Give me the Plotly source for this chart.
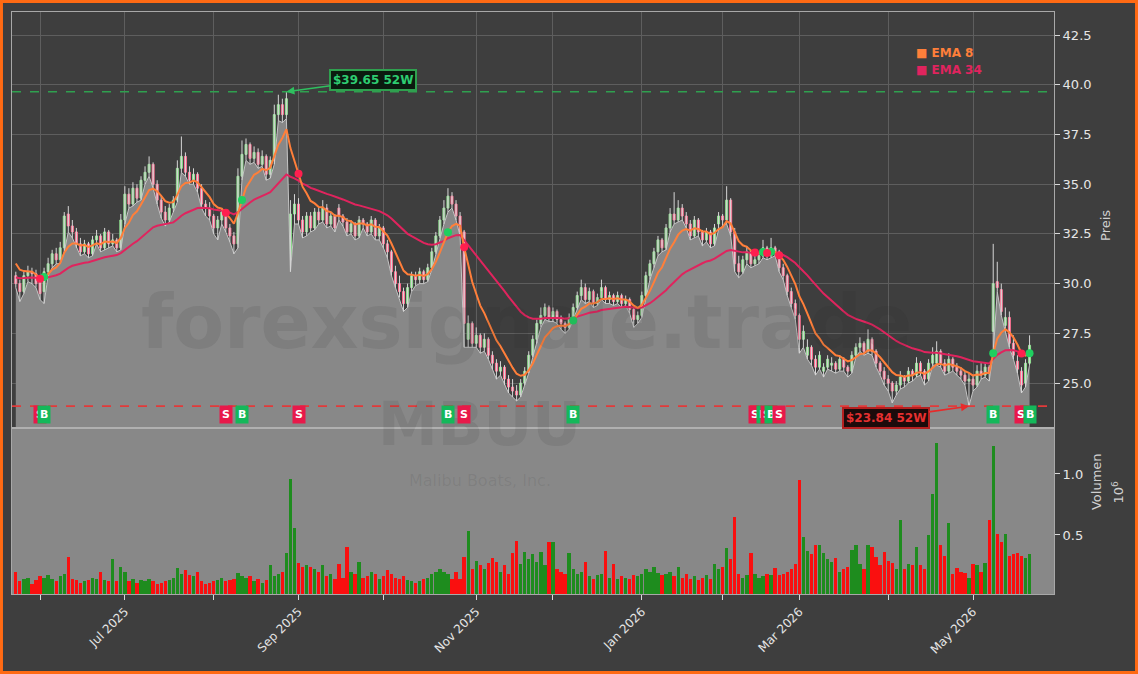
import plotly.graph_objects as go

# ---------------- data ----------------
opens = [30.4,30.0,29.6,30.4,30.6,30.5,30.1,29.6,30.6,31.0,
 31.5,31.2,31.8,33.5,32.9,32.6,32.0,31.6,32.0,31.5,
 32.2,32.4,31.8,32.6,32.0,32.2,31.8,33.2,34.5,34.0,
 34.8,34.3,35.2,35.6,36.0,35.0,34.2,33.6,33.2,33.8,
 34.2,35.8,36.4,35.6,35.2,35.5,34.8,34.0,33.8,33.4,
 32.8,33.2,33.6,32.8,32.4,32.0,35.4,36.5,37.0,36.3,
 36.6,36.0,36.4,35.5,36.2,38.5,39.0,38.5,31.2,33.5,
 34.0,33.2,32.6,33.4,32.8,33.6,33.2,33.8,33.0,33.4,
 33.8,33.4,33.1,32.6,33.0,32.4,33.2,33.0,32.6,33.2,
 32.4,32.8,32.0,31.6,30.6,30.0,29.6,29.0,29.8,30.4,
 30.2,30.6,30.2,30.8,31.6,32.4,33.2,33.8,34.4,34.0,
 33.4,32.6,27.2,28.0,27.0,27.4,26.8,27.2,26.4,26.0,
 25.6,25.8,25.2,24.8,24.6,24.4,25.0,25.6,26.4,27.2,
 28.0,28.4,28.8,28.3,28.6,28.2,28.0,27.8,28.3,28.8,
 29.4,29.8,29.2,29.6,29.0,29.3,29.8,29.2,29.4,29.1,
 29.4,29.0,29.2,28.7,28.2,28.4,29.4,30.4,31.0,31.6,
 32.2,31.8,32.8,33.5,33.2,33.8,33.4,33.0,32.4,33.2,
 32.6,32.2,32.6,32.0,33.0,33.4,33.2,34.2,32.6,31.0,
 30.6,31.2,31.6,31.0,31.2,31.4,31.8,31.4,31.8,31.6,
 30.8,30.4,29.6,29.0,28.4,27.2,26.4,26.8,26.2,25.8,
 25.6,25.8,25.9,26.0,25.7,26.2,25.8,25.6,26.4,26.8,
 27.0,26.6,27.2,26.6,26.0,25.6,25.2,25.0,24.6,24.9,
 25.3,25.1,25.6,25.4,26.0,25.6,25.2,26.0,26.0,26.6,
 26.0,25.6,26.2,25.8,25.6,25.4,25.1,25.2,24.9,25.6,
 25.4,25.8,27.6,30.1,29.7,27.9,28.3,27.0,26.1,25.6,
 25.0,26.0]

highs = [30.6,30.2,30.6,30.9,30.8,30.7,30.3,30.8,31.3,31.7,
 31.8,32.1,33.6,33.9,33.2,32.8,32.3,32.2,32.1,32.4,
 32.7,32.5,32.8,32.7,32.5,32.3,33.5,34.9,34.8,35.1,
 35.0,35.4,35.9,36.4,36.1,35.2,34.4,33.9,34.0,34.4,
 36.2,37.4,36.6,35.9,35.8,35.6,35.0,34.2,34.1,33.5,
 33.4,33.8,33.7,33.0,32.6,35.8,37.2,37.3,37.1,36.9,
 36.8,36.7,36.5,36.4,39.0,39.5,39.3,39.65,34.2,34.5,
 34.3,33.4,33.6,33.6,33.8,33.8,34.2,34.0,33.6,33.5,
 34.0,33.5,33.3,33.2,33.1,33.4,33.3,33.1,33.4,33.3,
 33.0,32.9,32.2,31.7,30.9,30.4,29.8,30.0,30.6,30.6,
 30.8,30.7,31.0,31.8,32.6,33.4,34.2,34.8,34.6,34.2,
 33.6,32.7,28.4,28.1,27.8,27.5,27.5,27.3,26.6,26.2,
 26.1,25.9,25.4,25.2,24.9,25.2,25.8,26.6,27.4,28.2,
 28.8,29.0,28.9,28.8,28.7,28.4,28.1,28.5,29.0,29.6,
 30.2,30.0,29.8,29.7,29.5,30.2,29.9,29.6,29.5,29.6,
 29.5,29.4,29.3,28.8,28.6,29.6,30.6,31.2,31.8,32.4,
 32.3,33.0,33.8,34.6,34.2,34.0,33.6,33.2,33.4,33.3,
 32.7,32.8,32.7,33.0,33.6,33.5,34.9,34.3,32.8,31.4,
 31.4,31.9,31.7,31.5,31.6,32.2,31.9,32.3,31.9,31.7,
 31.0,30.5,29.8,29.2,28.5,27.9,27.2,26.9,26.4,26.6,
 26.0,26.4,26.3,26.1,26.4,26.3,25.9,26.6,27.0,27.3,
 27.1,27.7,27.3,26.7,26.1,25.8,25.4,25.1,25.1,25.6,
 25.4,25.8,25.7,26.3,26.1,25.7,26.2,26.8,27.1,26.7,
 26.2,26.5,26.3,26.0,25.8,25.6,25.5,25.4,25.9,26.0,
 26.0,25.9,32.0,31.1,30.0,28.8,28.6,27.4,26.4,25.8,
 26.2,27.4]

lows = [29.8,29.1,29.5,30.1,30.0,29.8,29.2,29.0,30.4,30.8,
 31.0,31.0,31.6,32.6,32.3,31.8,31.4,31.5,31.3,31.4,
 32.0,31.6,31.7,31.8,31.9,31.6,31.7,33.0,33.8,33.9,
 34.1,34.2,35.0,35.4,34.8,34.0,33.3,32.9,33.1,33.6,
 34.1,35.6,35.4,35.0,35.0,34.6,33.8,33.4,33.2,32.5,
 32.2,33.0,32.6,32.1,31.5,31.8,35.2,36.2,36.0,36.1,
 35.8,35.9,35.2,35.3,36.0,38.2,38.1,38.3,30.6,33.0,
 33.0,32.3,32.4,32.6,32.7,33.0,33.1,32.8,32.9,32.6,
 33.2,32.9,32.4,32.5,32.2,32.3,32.8,32.4,32.5,32.2,
 32.2,31.8,31.3,30.4,29.8,29.3,28.6,28.8,29.6,29.9,
 30.0,30.0,30.1,30.7,31.5,32.3,33.0,33.6,33.8,33.2,
 32.4,26.8,26.8,26.8,26.8,26.5,26.6,26.2,25.7,25.2,
 25.4,24.9,24.5,24.3,24.1,24.3,24.9,25.5,26.3,27.0,
 27.8,28.2,28.1,28.1,28.0,27.7,27.5,27.7,28.2,28.7,
 29.2,29.0,29.1,28.8,28.9,29.2,29.0,29.0,28.9,29.0,
 28.8,28.9,28.5,27.8,28.0,28.3,29.3,30.2,30.8,31.4,
 31.6,31.7,32.6,33.0,33.1,33.2,32.8,32.2,32.3,32.4,
 31.9,32.1,31.8,31.9,32.7,32.9,33.0,32.4,30.6,30.3,
 30.5,31.0,30.8,30.9,31.0,31.3,31.2,31.3,31.4,30.6,
 30.2,29.4,28.8,28.2,26.5,26.8,26.2,25.9,25.4,25.7,
 25.3,25.7,25.6,25.5,25.6,25.6,25.3,25.5,26.3,26.6,
 26.4,26.5,26.4,25.8,25.4,24.9,24.6,24.0,24.4,24.7,
 24.8,25.0,25.1,25.3,25.4,24.9,25.1,25.9,25.9,25.8,
 25.4,25.5,25.6,25.4,25.2,24.9,23.84,24.6,24.8,25.2,
 25.3,25.1,26.5,29.6,28.4,27.6,26.8,26.2,25.5,24.5,
 24.8,25.9]

closes = [30.0,29.6,30.4,30.6,30.5,30.0,29.5,30.6,31.0,31.5,
 31.2,31.8,33.4,32.9,32.6,32.0,31.6,32.0,31.5,32.2,
 32.4,31.8,32.6,32.0,32.2,31.8,33.2,34.5,34.0,34.8,
 34.3,35.2,35.6,36.0,35.0,34.2,33.6,33.2,33.8,34.2,
 35.8,36.4,35.6,35.2,35.5,34.8,34.0,33.8,33.4,32.8,
 33.2,33.6,32.8,32.4,32.0,35.4,36.5,37.0,36.3,36.6,
 36.0,36.4,35.5,36.2,38.5,39.0,38.5,39.3,33.5,34.0,
 33.2,32.6,33.4,32.8,33.6,33.2,33.8,33.0,33.4,32.8,
 33.4,33.1,32.6,33.0,32.4,33.2,33.0,32.6,33.2,32.4,
 32.8,32.0,31.6,30.6,30.0,29.6,29.0,29.8,30.4,30.2,
 30.6,30.2,30.8,31.6,32.4,33.2,33.8,34.4,34.0,33.4,
 32.6,28.0,28.0,27.0,27.4,26.8,27.2,26.4,26.0,25.6,
 25.8,25.2,24.8,24.6,24.4,25.0,25.6,26.4,27.2,28.0,
 28.4,28.8,28.3,28.6,28.2,28.0,27.8,28.3,28.8,29.4,
 29.8,29.2,29.6,29.0,29.3,29.8,29.2,29.4,29.1,29.4,
 29.0,29.2,28.7,28.2,28.4,29.4,30.4,31.0,31.6,32.2,
 31.8,32.8,33.5,33.2,33.8,33.4,33.0,32.4,33.2,32.6,
 32.2,32.6,32.0,32.8,33.4,33.2,34.2,32.6,31.0,30.6,
 31.2,31.6,31.0,31.2,31.4,31.8,31.4,31.8,31.6,30.8,
 30.4,29.6,29.0,28.4,27.2,27.6,26.8,26.2,25.8,26.4,
 25.8,26.2,26.0,25.7,26.2,25.8,25.6,26.4,26.8,27.0,
 26.6,27.2,26.6,26.0,25.6,25.2,25.0,24.6,24.9,25.3,
 25.1,25.6,25.4,26.0,25.6,25.2,26.0,26.4,26.6,26.0,
 25.6,26.2,25.8,25.6,25.4,25.1,25.2,24.9,25.6,25.4,
 25.8,25.5,30.0,29.8,28.6,28.3,27.0,26.4,25.7,24.9,
 26.0,26.9]

volumes = [0.20,0.12,0.14,0.15,0.10,0.13,0.16,0.15,0.17,0.14,
 0.12,0.16,0.18,0.32,0.14,0.13,0.11,0.12,0.13,0.15,
 0.14,0.20,0.13,0.12,0.30,0.12,0.24,0.20,0.12,0.14,
 0.11,0.13,0.12,0.14,0.12,0.10,0.11,0.12,0.13,0.15,
 0.23,0.18,0.21,0.17,0.16,0.20,0.12,0.10,0.11,0.12,
 0.13,0.15,0.12,0.13,0.14,0.19,0.16,0.15,0.16,0.12,
 0.14,0.11,0.13,0.25,0.16,0.18,0.20,0.35,0.96,0.56,
 0.27,0.24,0.25,0.24,0.22,0.20,0.25,0.16,0.18,0.14,
 0.26,0.15,0.40,0.20,0.18,0.28,0.15,0.16,0.20,0.18,
 0.14,0.16,0.21,0.18,0.15,0.14,0.16,0.13,0.12,0.11,
 0.12,0.14,0.15,0.18,0.20,0.22,0.20,0.18,0.14,0.20,
 0.14,0.32,0.53,0.22,0.29,0.25,0.22,0.27,0.31,0.28,
 0.20,0.25,0.18,0.35,0.45,0.26,0.36,0.30,0.34,0.28,
 0.36,0.25,0.44,0.44,0.22,0.20,0.18,0.35,0.22,0.18,
 0.20,0.28,0.16,0.14,0.17,0.18,0.37,0.15,0.26,0.14,
 0.16,0.15,0.14,0.17,0.16,0.18,0.22,0.20,0.24,0.19,
 0.17,0.18,0.20,0.16,0.24,0.15,0.18,0.14,0.16,0.13,
 0.15,0.17,0.14,0.26,0.22,0.24,0.39,0.30,0.65,0.18,
 0.15,0.17,0.35,0.18,0.15,0.16,0.18,0.17,0.23,0.17,
 0.18,0.20,0.22,0.26,0.95,0.48,0.37,0.34,0.42,0.42,
 0.35,0.30,0.28,0.31,0.20,0.22,0.24,0.38,0.42,0.26,
 0.22,0.42,0.40,0.32,0.25,0.36,0.29,0.27,0.22,0.62,
 0.22,0.26,0.25,0.40,0.25,0.22,0.50,0.84,1.25,0.42,
 0.33,0.60,0.18,0.23,0.20,0.19,0.15,0.26,0.25,0.20,
 0.27,0.62,1.23,0.51,0.44,0.51,0.33,0.34,0.35,0.33,
 0.31,0.34]

month_idx = [6, 27, 49, 70, 91, 114, 133, 155, 175, 194, 216, 237]
month_labels = ["", "Jul 2025", "", "Sep 2025", "", "Nov 2025", "", "Jan 2026",
                "", "Mar 2026", "", "May 2026"]

buy_idx = [7, 56, 107, 138, 185, 187, 242, 251]
sell_idx = [6, 52, 70, 111, 183, 186, 189, 249]

ema8_seed = 31.3
ema34_seed = 30.33
high_52w = 39.65
high_52w_idx = 67
low_52w = 23.84
low_52w_idx = 236

# ---------------- derived ----------------
n = len(closes)
idx = list(range(n))


def ema(values, span, seed):
    a = 2.0 / (span + 1)
    out, prev = [], seed
    for v in values:
        prev = a * v + (1 - a) * prev
        out.append(prev)
    return out


ema8 = ema(closes, 8, ema8_seed)
ema34 = ema(closes, 34, ema34_seed)
vol_colors = ["#1e8c1e" if c >= o else "#fa0f0f" for o, c in zip(opens, closes)]
body_top = [max(o, c) for o, c in zip(opens, closes)]
body_bot = [min(o, c) for o, c in zip(opens, closes)]

wick_x, wick_y = [], []
for i in idx:
    wick_x += [i, i, None]
    wick_y += [lows[i], highs[i], None]

DARK = "#3e3e3e"
GRAYFILL = "#888888"
TXT = "#e6e6e6"

fig = go.Figure()

# price area (low line filled downward)
fig.add_trace(go.Scatter(x=idx, y=lows, mode="lines", fill="tozeroy",
                         fillcolor=GRAYFILL, line=dict(color="#c4c4c4", width=1),
                         hoverinfo="skip", showlegend=False, xaxis="x", yaxis="y"))

# wicks
fig.add_trace(go.Scatter(x=wick_x, y=wick_y, mode="lines",
                         line=dict(color="#d6d6d6", width=1), hoverinfo="skip",
                         showlegend=False, xaxis="x", yaxis="y"))

# bodies
fig.add_trace(go.Candlestick(
    x=idx, open=opens, high=body_top, low=body_bot, close=closes,
    increasing=dict(line=dict(color="#8ee08e", width=1), fillcolor="#b4cdb4"),
    decreasing=dict(line=dict(color="#ff6f90", width=1), fillcolor="#f2b6c6"),
    whiskerwidth=0, showlegend=False, xaxis="x", yaxis="y"))

fig.add_trace(go.Scatter(x=idx, y=ema34, mode="lines", line=dict(color="#e0245e", width=2),
                         showlegend=False, xaxis="x", yaxis="y"))
fig.add_trace(go.Scatter(x=idx, y=ema8, mode="lines", line=dict(color="#ff7f3a", width=2),
                         showlegend=False, xaxis="x", yaxis="y"))

fig.add_trace(go.Scatter(x=buy_idx, y=[ema8[i] for i in buy_idx], mode="markers",
                         marker=dict(color="#1fcf5f", size=8), showlegend=False,
                         xaxis="x", yaxis="y"))
fig.add_trace(go.Scatter(x=sell_idx, y=[ema8[i] for i in sell_idx], mode="markers",
                         marker=dict(color="#ff1f4f", size=8), showlegend=False,
                         xaxis="x", yaxis="y"))

fig.add_trace(go.Bar(x=idx, y=volumes, marker=dict(color=vol_colors, line=dict(width=0)),
                     width=0.82, showlegend=False, xaxis="x2", yaxis="y2"))

split = 166 / 582
xr = [-0.94, 257.05]

fig.update_layout(
    width=1138, height=674,
    margin=dict(l=12, r=84, t=12, b=80),
    paper_bgcolor=DARK, plot_bgcolor=DARK,
    font=dict(family="DejaVu Sans", color=TXT, size=13),
    bargap=0,
    xaxis=dict(domain=[0, 1], anchor="y", range=xr, tickvals=month_idx,
               showticklabels=False, ticks="", showgrid=True, gridcolor="#5e5e5e",
               gridwidth=1, zeroline=False, showline=True, linecolor="#a8a8a8",
               linewidth=1, mirror=True, rangeslider=dict(visible=False)),
    yaxis=dict(domain=[split, 1], anchor="x", side="right", range=[22.74, 43.66],
               tickvals=[25.0, 27.5, 30.0, 32.5, 35.0, 37.5, 40.0, 42.5],
               ticktext=["25.0", "27.5", "30.0", "32.5", "35.0", "37.5", "40.0", "42.5"],
               ticks="outside", ticklen=5, tickcolor="#d8d8d8", showgrid=True,
               gridcolor="#5e5e5e", zeroline=False, showline=True, linecolor="#a8a8a8",
               mirror=True, tickfont=dict(size=13, color=TXT)),
    xaxis2=dict(domain=[0, 1], anchor="y2", range=xr, matches="x", tickvals=month_idx,
                ticktext=month_labels, tickangle=-45, ticks="outside", ticklen=5,
                tickcolor="#d8d8d8", showgrid=False, zeroline=False, showline=True,
                linecolor="#a8a8a8", mirror=True, tickfont=dict(size=12, color=TXT)),
    yaxis2=dict(domain=[0, split], anchor="x2", side="right", range=[0.016, 1.377],
                tickvals=[0.5, 1.0], ticktext=["0.5", "1.0"], ticks="outside", ticklen=5,
                tickcolor="#d8d8d8", showgrid=False, zeroline=False, showline=True,
                linecolor="#a8a8a8", mirror=True, tickfont=dict(size=13, color=TXT)),
)

shapes = [
    # volume panel background
    dict(type="rect", xref="x2 domain", yref="y2 domain", x0=0, x1=1, y0=0, y1=1,
         fillcolor=GRAYFILL, line=dict(width=0), layer="below"),
    # panel separator
    dict(type="line", xref="paper", yref="paper", x0=0, x1=1, y0=split, y1=split,
         line=dict(color="#b0b0b0", width=2)),
    # 52w lines
    dict(type="line", xref="x domain", yref="y", x0=0, x1=1, y0=high_52w, y1=high_52w,
         line=dict(color="#2fa04f", width=1.6, dash="dash")),
    dict(type="line", xref="x domain", yref="y", x0=0, x1=1, y0=low_52w, y1=low_52w,
         line=dict(color="#e23a3a", width=1.6, dash="dash")),
    # orange frame
    dict(type="rect", xref="paper", yref="paper", x0=-0.0101, x1=1.0792,
         y0=-0.1349, y1=1.0180, line=dict(color="#ff6a13", width=3)),
]
fig.update_layout(shapes=shapes)

WM = "rgba(40,40,40,0.10)"
ann = []
# watermark
ann.append(dict(text="<b>forexsignale.trade</b>", xref="paper", yref="paper", x=0.494, y=0.467,
                showarrow=False, font=dict(size=74, color=WM)))
ann.append(dict(text="<b>MBUU</b>", xref="paper", yref="paper", x=0.449, y=0.228,
                showarrow=False, font=dict(size=60, color=WM)))
ann.append(dict(text="Malibu Boats, Inc.", xref="paper", yref="paper", x=0.449, y=0.175,
                showarrow=False, font=dict(size=16, color=WM)))
# legend
ann.append(dict(text="<b>■ EMA 8</b>", xref="paper", yref="paper", x=0.8656, y=0.9296,
                xanchor="left", yanchor="middle", showarrow=False,
                font=dict(size=12, color="#ff7f3a")))
ann.append(dict(text="<b>■ EMA 34</b>", xref="paper", yref="paper", x=0.8656, y=0.9003,
                xanchor="left", yanchor="middle", showarrow=False,
                font=dict(size=12, color="#e0245e")))
# axis titles
ann.append(dict(text="Preis", xref="paper", yref="paper", x=1.058, y=0.634, textangle=-90,
                showarrow=False, font=dict(size=13, color="#d0d0d0")))
ann.append(dict(text="Volumen", xref="paper", yref="paper", x=1.05, y=0.141, textangle=-90,
                showarrow=False, font=dict(size=13, color="#d0d0d0")))
ann.append(dict(text="10<sup>6</sup>", xref="paper", yref="paper", x=1.071, y=0.153,
                textangle=-90, showarrow=False, font=dict(size=13, color="#d0d0d0")))
# 52w annotations
ann.append(dict(text="<b>$39.65 52W</b>", x=high_52w_idx, y=high_52w, xref="x", yref="y",
                ax=87, ay=-12, showarrow=True, arrowhead=2, arrowsize=1, arrowwidth=1.6,
                arrowcolor="#2fbf5f", bgcolor="#0b1a0f", bordercolor="#2fa04f",
                borderwidth=2, borderpad=2, font=dict(size=12, color="#2ecc71")))
ann.append(dict(text="<b>$23.84 52W</b>", x=low_52w_idx, y=low_52w, xref="x", yref="y",
                ax=-83, ay=12, showarrow=True, arrowhead=2, arrowsize=1, arrowwidth=1.6,
                arrowcolor="#e82a2a", bgcolor="#1c0b0b", bordercolor="#b52020",
                borderwidth=2, borderpad=2, font=dict(size=12, color="#e63030")))
# signal labels
sig = sorted([(i, "S") for i in sell_idx] + [(i, "B") for i in buy_idx])
for i, s in sig:
    ann.append(dict(text="<b>%s</b>" % s, x=i, y=23.44, xref="x", yref="y", showarrow=False,
                    bgcolor="#14b85a" if s == "B" else "#e8194a", borderpad=2,
                    font=dict(size=11, color="white")))
fig.update_layout(annotations=ann)

fig.write_html("out.html")
